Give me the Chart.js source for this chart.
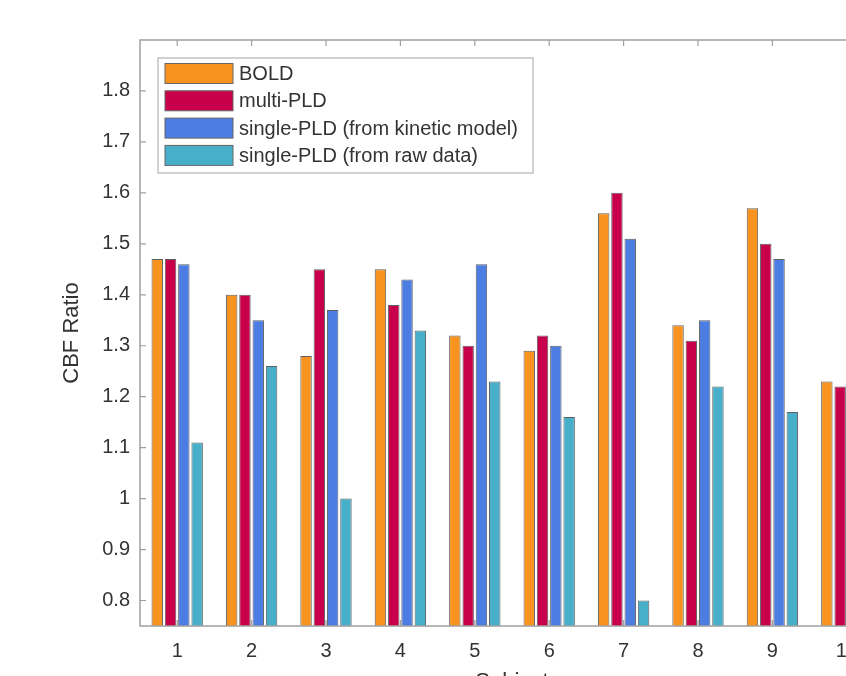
<!DOCTYPE html>
<html>
<head>
<meta charset="utf-8">
<script src="https://cdn.jsdelivr.net/npm/chart.js@4.4.1/dist/chart.umd.min.js"></script>
<style>
  html, body { margin: 0; padding: 0; background: #fff; overflow: hidden; }
  #wrap { width: 846px; height: 676px; overflow: hidden; position: relative; }
  canvas { display: block; }
</style>
</head>
<body>
<div id="wrap"><canvas id="cbfChart" width="900" height="720"></canvas></div>
<script>
const subjects = ["1", "2", "3", "4", "5", "6", "7", "8", "9", "10"];

const boldValues      = [1.47, 1.40, 1.28, 1.45, 1.32, 1.29, 1.56, 1.34, 1.57, 1.23];
const multiPldValues  = [1.47, 1.40, 1.45, 1.38, 1.30, 1.32, 1.60, 1.31, 1.50, 1.22];
const kineticValues   = [1.46, 1.35, 1.37, 1.43, 1.46, 1.30, 1.51, 1.35, 1.47, 1.25];
const rawDataValues   = [1.11, 1.26, 1.00, 1.33, 1.23, 1.16, 0.80, 1.22, 1.17, 1.10];

const seriesLabels = ["BOLD", "multi-PLD", "single-PLD (from kinetic model)", "single-PLD (from raw data)"];
const seriesColors = ["#F7931E", "#C8004C", "#4B7DE2", "#48AFCA"];

const yTickValues = [0.8, 0.9, 1.0, 1.1, 1.2, 1.3, 1.4, 1.5, 1.6, 1.7, 1.8];
const yTickLabels = ["0.8", "0.9", "1", "1.1", "1.2", "1.3", "1.4", "1.5", "1.6", "1.7", "1.8"];

const FONT = "'Liberation Sans', Arial, sans-serif";
const AXIS_GRAY = "#a0a0a0";

// frame, inward ticks and the legend box drawn inside the axes
const matlabAxesPlugin = {
    id: "matlabAxes",
    afterDatasetsDraw(chart) {
        const ctx = chart.ctx;
        const area = chart.chartArea;
        const x = chart.scales.x;
        const y = chart.scales.y;

        ctx.save();
        ctx.strokeStyle = AXIS_GRAY;
        ctx.lineWidth = 1.5;
        ctx.strokeRect(area.left, area.top, area.right - area.left, area.bottom - area.top);

        ctx.lineWidth = 1.2;
        ctx.beginPath();
        subjects.forEach((s, i) => {
            const px = x.getPixelForValue(i);
            ctx.moveTo(px, area.top);
            ctx.lineTo(px, area.top + 6);
            ctx.moveTo(px, area.bottom);
            ctx.lineTo(px, area.bottom - 6);
        });
        yTickValues.forEach(v => {
            const py = y.getPixelForValue(v);
            ctx.moveTo(area.left, py);
            ctx.lineTo(area.left + 6, py);
            ctx.moveTo(area.right, py);
            ctx.lineTo(area.right - 6, py);
        });
        ctx.stroke();

        // legend
        const bx = area.left + 18, by = area.top + 18;
        const bw = 375, bh = 115;
        ctx.fillStyle = "#fff";
        ctx.fillRect(bx, by, bw, bh);
        ctx.strokeStyle = "#b4b4b4";
        ctx.lineWidth = 1.2;
        ctx.strokeRect(bx, by, bw, bh);

        ctx.font = "20px " + FONT;
        ctx.textBaseline = "middle";
        ctx.textAlign = "left";
        chart.data.datasets.forEach((ds, i) => {
            const cy = by + 15.5 + i * 27.3;
            ctx.fillStyle = ds.backgroundColor;
            ctx.fillRect(bx + 7, cy - 10, 68, 20);
            ctx.strokeStyle = "#666";
            ctx.lineWidth = 1;
            ctx.strokeRect(bx + 7, cy - 10, 68, 20);
            ctx.fillStyle = "#333";
            ctx.fillText(ds.label, bx + 81, cy + 1);
        });
        ctx.restore();
    }
};

const allSeries = [boldValues, multiPldValues, kineticValues, rawDataValues];

new Chart(document.getElementById("cbfChart"), {
    type: "bar",
    data: {
        labels: subjects,
        datasets: allSeries.map((values, i) => ({
            label: seriesLabels[i],
            data: values,
            backgroundColor: seriesColors[i],
            borderColor: "rgba(55, 55, 55, 0.8)",
            borderWidth: 1,
            categoryPercentage: 0.715,
            barPercentage: 0.86
        }))
    },
    options: {
        responsive: false,
        animation: false,
        layout: { padding: { top: 40, right: 16, left: 0, bottom: 0 } },
        plugins: {
            legend: { display: false },
            tooltip: { enabled: false }
        },
        scales: {
            x: {
                grid: { display: false, drawTicks: false },
                border: { display: false },
                ticks: { color: "#333", font: { family: FONT, size: 20 }, padding: 13 },
                title: {
                    display: true,
                    text: "Subject",
                    color: "#333",
                    font: { family: FONT, size: 22 },
                    padding: { top: 0, bottom: 25 }
                },
                afterFit(scale) { scale.height = 94; }
            },
            y: {
                min: 0.75,
                max: 1.9,
                grid: { display: false, drawTicks: false },
                border: { display: false },
                ticks: {
                    color: "#333",
                    font: { family: FONT, size: 20 },
                    padding: 10,
                    callback: (value) => {
                        const idx = yTickValues.findIndex(v => Math.abs(v - value) < 1e-6);
                        return idx >= 0 ? yTickLabels[idx] : "";
                    }
                },
                afterBuildTicks(scale) {
                    scale.ticks = yTickValues.map(v => ({ value: v }));
                },
                title: {
                    display: true,
                    text: "CBF Ratio",
                    color: "#333",
                    font: { family: FONT, size: 22 },
                    padding: { top: 59, bottom: 0 }
                },
                afterFit(scale) { scale.width = 140; }
            }
        }
    },
    plugins: [matlabAxesPlugin]
});
</script>
</body>
</html>
